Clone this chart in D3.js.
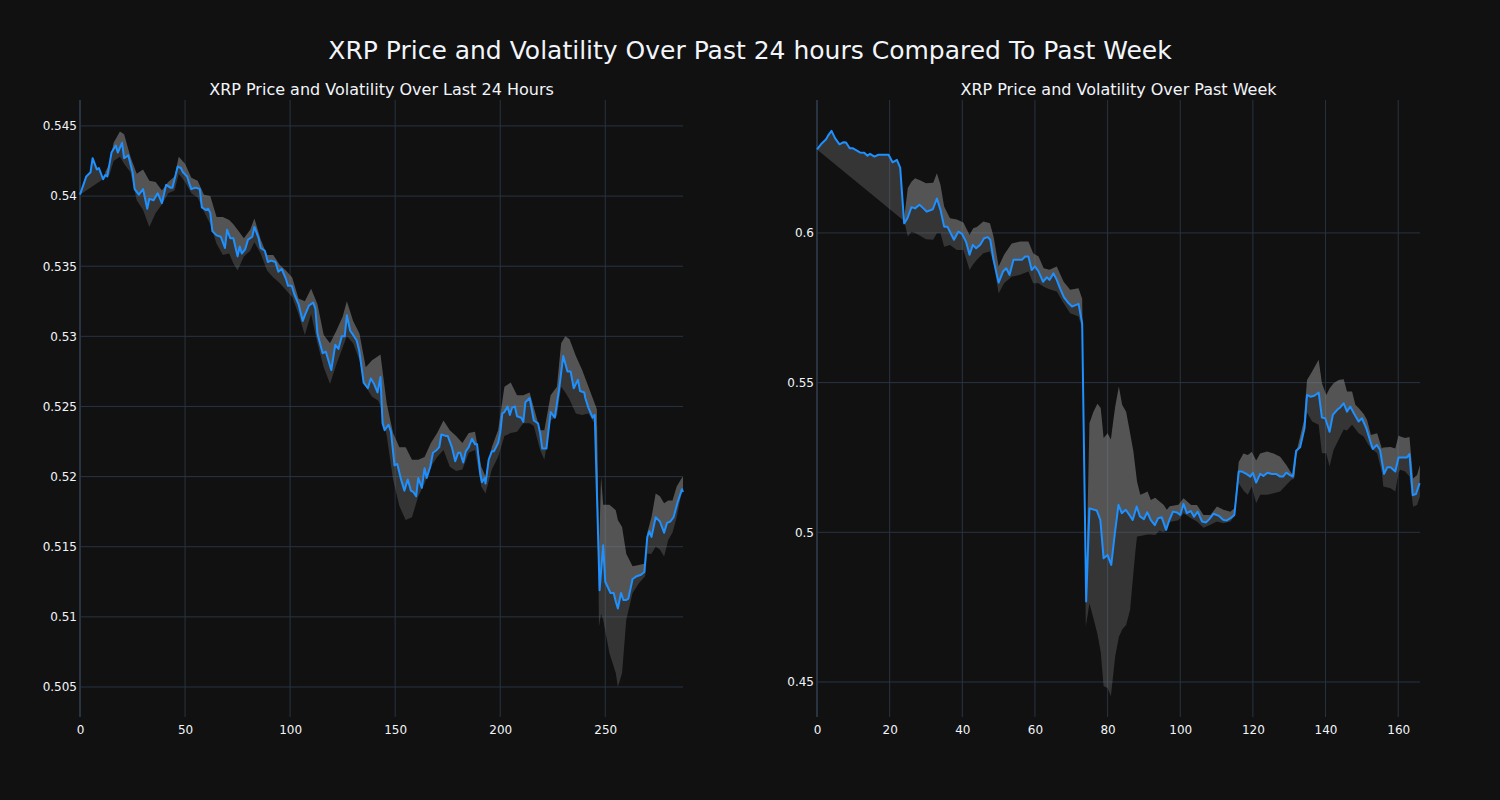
<!DOCTYPE html>
<html>
<head>
<meta charset="utf-8">
<script src="https://cdn.jsdelivr.net/npm/d3@7"></script>
<style>
  html, body { margin: 0; padding: 0; background: #111111; }
  svg { display: block; }
  text { font-family: "DejaVu Sans", sans-serif; fill: #f2f5fa; }
</style>
</head>
<body>
<svg id="chart" width="1500" height="800"></svg>
<script>
// ---------- DATA ----------
const mainTitle = "XRP Price and Volatility Over Past 24 hours Compared To Past Week";
const leftTitle = "XRP Price and Volatility Over Last 24 Hours";
const rightTitle = "XRP Price and Volatility Over Past Week";

// Left panel (last 24 hours, 5-minute steps)
const leftX = [0,3,5,6,8,9,11,12,13,15,17,18,20,21,23,25,26,28,30,32,33,35,37,39,41,43,44,46.5,48,49,51,52,53,55,57,58,60,61,62,63,65,67,69,70,71.5,73,75,76,77,78.6,80,82,83,85,86,88,89.4,91,93,94.4,96,98,99,100.8,102,104,106,107,109,111,112,113,115.5,117,119.6,121.5,123,124.6,126,127,128.6,130,131.7,133,135,137,138.4,140,141.6,143,144,145,146.8,148,149.7,151,152.8,154.4,156,157.5,158.7,160,161,162.7,164,165,166.7,168,169.8,171,172,174,175,177,178.6,180,181,182.4,183.6,185,186.6,188,189,190.5,191.3,192.6,193,194.5,196,197,199,200,201,202,203.5,204.6,205.6,207,208,210,211,212,214,216,218,219,220,222,224,226,228,230,232,233.5,235,237,238,240,240.5,242,244,245,247.3,249,250,252.5,254,255,256,257.5,258.6,260,261,263,265,267,268.6,270,271,272,274,276,278,279.4,281,282.5,284.5,286.5,287];
const leftPrice = [0.5401,0.5414,0.5417,0.5427,0.5419,0.5420,0.5412,0.5415,0.5414,0.5431,0.5436,0.5431,0.5438,0.5427,0.5429,0.5417,0.5405,0.5401,0.5405,0.5391,0.5398,0.5397,0.5402,0.5395,0.5408,0.5406,0.5406,0.5421,0.5420,0.5417,0.5414,0.5409,0.5405,0.5406,0.5405,0.5392,0.5390,0.5391,0.5388,0.5375,0.5372,0.5371,0.5363,0.5376,0.5370,0.5370,0.5357,0.5364,0.5359,0.5362,0.5369,0.5371,0.5378,0.5370,0.5363,0.5361,0.5353,0.5354,0.5353,0.5346,0.5348,0.5341,0.5336,0.5336,0.5330,0.5323,0.5311,0.5315,0.5322,0.5324,0.5320,0.5302,0.5288,0.5289,0.5276,0.5294,0.5291,0.5300,0.5300,0.5315,0.5304,0.5301,0.5297,0.5289,0.5267,0.5263,0.5270,0.5266,0.5260,0.5271,0.5238,0.5233,0.5237,0.5232,0.5208,0.5209,0.5198,0.5190,0.5198,0.5190,0.5189,0.5186,0.5199,0.5192,0.5206,0.5199,0.5207,0.5217,0.5219,0.5221,0.5230,0.5229,0.5229,0.5221,0.5211,0.5217,0.5217,0.5210,0.5218,0.5221,0.5227,0.5223,0.5223,0.5202,0.5196,0.5199,0.5195,0.5212,0.5218,0.5218,0.5224,0.5231,0.5245,0.5246,0.5250,0.5244,0.5249,0.5250,0.5243,0.5242,0.5239,0.5253,0.5256,0.5240,0.5238,0.5231,0.5220,0.5220,0.5246,0.5242,0.5262,0.5286,0.5275,0.5275,0.5263,0.5269,0.5261,0.5260,0.5256,0.5249,0.5242,0.5244,0.5119,0.5151,0.5125,0.5117,0.5117,0.5111,0.5106,0.5117,0.5112,0.5112,0.5113,0.5127,0.5129,0.5130,0.5132,0.5157,0.5161,0.5157,0.5171,0.5168,0.5160,0.5167,0.5168,0.5171,0.5182,0.5191,0.5189];
const leftBandX = [12,14,16,19,21,24,27,30,33,36,39,42,45,47,50,53,56,59,62,65,68,71,73,75,78,81,83,86,89,92,95,98,101,104,107,110,113,116,119,122,125,127,130,133,136,139,142,143,146,149,152,155,158,161,164,167,170,173,176,179,182,185,188,191,193,196,199,202,205,208,211,214,216,219,221,224,227,229,231,233,236,239,242,244,246,247,248,249,252,255,256,258,260,263,266,269,270,272,274,276,278,280,282,284,286,287];
const leftUpper = [0.5417,0.5423,0.5438,0.5446,0.5444,0.5428,0.5416,0.5419,0.5411,0.5410,0.5404,0.5410,0.5414,0.5428,0.5423,0.5413,0.5411,0.5401,0.5400,0.5385,0.5385,0.5383,0.5380,0.5376,0.5370,0.5376,0.5384,0.5369,0.5358,0.5358,0.5351,0.5347,0.5342,0.5327,0.5325,0.5334,0.5323,0.5301,0.5295,0.5304,0.5314,0.5325,0.5311,0.5302,0.5278,0.5283,0.5286,0.5287,0.5252,0.5231,0.5221,0.5221,0.5212,0.5212,0.5214,0.5224,0.5231,0.5240,0.5233,0.5229,0.5224,0.5231,0.5232,0.5207,0.5200,0.5221,0.5233,0.5264,0.5267,0.5258,0.5258,0.5260,0.5249,0.5233,0.5233,0.5258,0.5264,0.5295,0.5300,0.5298,0.5286,0.5276,0.5264,0.5256,0.5248,0.5145,0.5200,0.5180,0.5180,0.5176,0.5169,0.5164,0.5145,0.5136,0.5137,0.5138,0.5160,0.5171,0.5188,0.5186,0.5181,0.5183,0.5183,0.5193,0.5198,0.5200];
const leftLower = [0.5413,0.5415,0.5425,0.5428,0.5423,0.5417,0.5397,0.5390,0.5378,0.5388,0.5394,0.5402,0.5404,0.5416,0.5410,0.5402,0.5399,0.5389,0.5380,0.5366,0.5358,0.5359,0.5352,0.5347,0.5357,0.5361,0.5367,0.5359,0.5347,0.5342,0.5338,0.5333,0.5328,0.5316,0.5301,0.5316,0.5295,0.5278,0.5266,0.5280,0.5292,0.5300,0.5295,0.5283,0.5264,0.5257,0.5254,0.5250,0.5229,0.5198,0.5179,0.5169,0.5171,0.5186,0.5195,0.5207,0.5214,0.5219,0.5207,0.5204,0.5205,0.5217,0.5219,0.5193,0.5188,0.5205,0.5214,0.5229,0.5231,0.5232,0.5238,0.5238,0.5236,0.5219,0.5212,0.5240,0.5243,0.5264,0.5260,0.5255,0.5245,0.5244,0.5245,0.5240,0.5236,0.5093,0.5102,0.5098,0.5074,0.5060,0.5050,0.5060,0.5098,0.5117,0.5124,0.5129,0.5145,0.5145,0.5150,0.5148,0.5143,0.5155,0.5160,0.5171,0.5186,0.5190];
const leftXTicks = [0, 50, 100, 150, 200, 250];
const leftYTicks = [0.505, 0.51, 0.515, 0.52, 0.525, 0.53, 0.535, 0.54, 0.545];

// Right panel (past week, hourly steps)
const rightX = [0,1.3,2.5,3,4,5,6.2,7.3,8,9,9.8,11,11.8,13,13.9,14.6,15.8,16.9,18.3,19.7,20.8,22,22.9,24,24.9,26,27,28.2,29.3,30.2,31.9,33,34,35,35.9,36.8,37.7,38.9,39.9,41,42,42.9,43.8,44.9,46,47,47.7,48.6,50,51.2,52.1,53,54.1,55.5,56.4,57.3,58.2,59.1,60,61,62.2,63.3,64,65.1,66,66.9,68,69.3,70.2,72,73,74.1,75,77,78,78.9,80,81,82,83,83.9,85,86,86.9,88,88.9,90,90.9,91.9,93,93.9,94.9,96.1,97,98,99.1,100,100.9,101.8,102.9,103.8,104.8,106,107.1,108,109.2,110.6,111.8,112.7,113.8,114.9,116.1,117,118.2,119.3,120,120.9,122,122.9,124,125.2,126.4,127.5,128.3,129.2,130.1,131,131.9,133,134.2,134.9,135.8,136.9,138.1,139,139.9,141.1,142,143.2,144.1,145,145.9,146.8,147.9,149.1,150,151.2,153,154.1,155,156.1,157,157.9,159.2,160.1,161.4,162.4,163.1,164,164.9,165.9];
const rightPrice = [0.6279,0.6299,0.6313,0.6324,0.6341,0.6316,0.6296,0.6303,0.6302,0.6283,0.6283,0.6275,0.6269,0.6268,0.6258,0.6264,0.6255,0.6261,0.6261,0.6261,0.6236,0.6244,0.6218,0.6032,0.6049,0.6086,0.6082,0.6094,0.6082,0.6071,0.6079,0.6115,0.6077,0.6021,0.6021,0.5999,0.5977,0.6004,0.5997,0.5971,0.5927,0.5960,0.5949,0.5960,0.5982,0.5986,0.5977,0.5910,0.5834,0.5871,0.5882,0.5860,0.5910,0.5910,0.5910,0.5921,0.5921,0.5876,0.5888,0.5871,0.5837,0.5852,0.5843,0.5865,0.5843,0.5815,0.5785,0.5765,0.5754,0.5763,0.5698,0.4769,0.5080,0.5073,0.5041,0.4913,0.4924,0.4891,0.4997,0.5092,0.5064,0.5075,0.5058,0.5041,0.5086,0.5053,0.5044,0.5067,0.5041,0.5024,0.5047,0.5050,0.5008,0.5041,0.5069,0.5066,0.5058,0.5095,0.5064,0.5071,0.5052,0.5069,0.5036,0.5033,0.5044,0.5062,0.5055,0.5042,0.5039,0.5047,0.5058,0.5203,0.5203,0.5195,0.5186,0.5199,0.5166,0.5195,0.5188,0.5199,0.5195,0.5195,0.5186,0.5186,0.5199,0.5192,0.5186,0.5272,0.5284,0.5348,0.5459,0.5453,0.5456,0.5467,0.5383,0.5381,0.5336,0.5392,0.5409,0.5418,0.5431,0.5403,0.5420,0.5395,0.5370,0.5381,0.5348,0.5278,0.5292,0.5275,0.5195,0.5217,0.5217,0.5203,0.5250,0.5250,0.5250,0.5261,0.5124,0.5128,0.5164];
const rightBandX = [24,25,26,27,28.5,30,32,33,34,35,36.6,38.5,40.3,42,43,44,45.8,47.6,48.6,50,51.5,53.6,55.9,58.2,59.5,61,62.4,64,66,67.9,69.7,72,73,74,75,76.1,77.2,78.1,78.9,80,80.9,81.6,82.1,83.1,84,85.1,86.2,87.1,87.6,88.1,89,90,91,91.9,93.1,94.3,95.4,96.3,97.1,99.5,100.9,103,104.6,106.4,108.3,110.1,111.9,113.8,114.9,116.1,117.4,118.6,119.7,120.9,122,123.9,125.7,127.5,129.2,130.5,131.4,132.1,134,134.9,136.3,138.1,139,140.2,141.1,142.2,143.6,145,145.9,147.3,148.2,149.1,150.5,151.4,152.5,154.2,155.5,155.9,157.9,159.2,160.1,160.6,161.9,163.1,164.1,165.2,166];
const rightUpper = [0.6050,0.6150,0.6171,0.6183,0.6175,0.6166,0.6168,0.6199,0.6160,0.6088,0.6049,0.6045,0.6035,0.5993,0.6016,0.6020,0.6038,0.6032,0.5988,0.5888,0.5927,0.5965,0.5971,0.5971,0.5932,0.5921,0.5882,0.5877,0.5888,0.5837,0.5810,0.5815,0.5780,0.4780,0.5364,0.5403,0.5429,0.5415,0.5315,0.5331,0.5310,0.5376,0.5420,0.5487,0.5426,0.5403,0.5331,0.5270,0.5220,0.5170,0.5125,0.5130,0.5136,0.5108,0.5115,0.5103,0.5092,0.5075,0.5087,0.5092,0.5114,0.5091,0.5091,0.5058,0.5058,0.5086,0.5075,0.5069,0.5080,0.5235,0.5263,0.5258,0.5269,0.5240,0.5263,0.5270,0.5263,0.5252,0.5225,0.5200,0.5186,0.5275,0.5370,0.5509,0.5537,0.5576,0.5498,0.5459,0.5480,0.5498,0.5509,0.5511,0.5470,0.5470,0.5426,0.5415,0.5395,0.5376,0.5325,0.5331,0.5280,0.5283,0.5285,0.5280,0.5323,0.5320,0.5315,0.5318,0.5180,0.5191,0.5225];
const rightLower = [0.6040,0.5988,0.6004,0.6000,0.5990,0.5979,0.5977,0.5999,0.5999,0.5954,0.5960,0.5943,0.5943,0.5876,0.5895,0.5910,0.5932,0.5938,0.5900,0.5798,0.5832,0.5854,0.5860,0.5871,0.5832,0.5832,0.5820,0.5812,0.5804,0.5765,0.5732,0.5721,0.5680,0.4685,0.4763,0.4713,0.4660,0.4600,0.4486,0.4480,0.4452,0.4530,0.4586,0.4650,0.4675,0.4690,0.4741,0.4865,0.4930,0.4986,0.4988,0.4990,0.4993,0.4993,0.4991,0.5005,0.5000,0.5010,0.5034,0.5040,0.5064,0.5047,0.5036,0.5015,0.5025,0.5036,0.5030,0.5036,0.5053,0.5164,0.5140,0.5125,0.5153,0.5097,0.5125,0.5125,0.5130,0.5136,0.5158,0.5175,0.5180,0.5260,0.5330,0.5400,0.5370,0.5359,0.5264,0.5264,0.5220,0.5275,0.5309,0.5343,0.5340,0.5359,0.5345,0.5331,0.5320,0.5300,0.5281,0.5264,0.5200,0.5153,0.5147,0.5136,0.5200,0.5209,0.5203,0.5186,0.5085,0.5091,0.5120];
const rightXTicks = [0, 20, 40, 60, 80, 100, 120, 140, 160];
const rightYTicks = [0.45, 0.5, 0.55, 0.6];

// ---------- DRAW ----------
const svg = d3.select("#chart");
svg.append("rect").attr("width", 1500).attr("height", 800).attr("fill", "#111111");

svg.append("text").attr("x", 750).attr("y", 59).attr("text-anchor", "middle")
  .style("font-size", "25px").text(mainTitle);

function panel(cfg) {
  const x = d3.scaleLinear().domain(cfg.xDomain).range([cfg.left, cfg.right]);
  const y = d3.scaleLinear().domain(cfg.yDomain).range([cfg.bottom, cfg.top]);
  const g = svg.append("g");

  // gridlines
  g.append("g").selectAll("line").data(cfg.yTicks).join("line")
    .attr("x1", cfg.left).attr("x2", cfg.right)
    .attr("y1", d => y(d)).attr("y2", d => y(d))
    .attr("stroke", "#283442").attr("stroke-width", 1);
  g.append("g").selectAll("line").data(cfg.xTicks.filter(d => d !== 0)).join("line")
    .attr("x1", d => x(d)).attr("x2", d => x(d))
    .attr("y1", cfg.top).attr("y2", cfg.bottom)
    .attr("stroke", "#283442").attr("stroke-width", 1);
  // zero line
  g.append("line").attr("x1", x(0)).attr("x2", x(0)).attr("y1", cfg.top).attr("y2", cfg.bottom)
    .attr("stroke", "#283442").attr("stroke-width", 2);

  const pricePts = cfg.px.map((d, i) => [x(d), y(cfg.price[i])]);
  const upperPts = cfg.bx.map((d, i) => [x(d), y(cfg.upper[i])]);
  const lowerPts = cfg.bx.map((d, i) => [x(d), y(cfg.lower[i])]);
  const bx0 = cfg.bx[0], bx1 = cfg.bx[cfg.bx.length - 1];
  const pricePtsBand = cfg.px.map((d, i) => [d, cfg.price[i]])
    .filter(p => p[0] >= bx0 && p[0] <= bx1).map(p => [x(p[0]), y(p[1])]);
  const line = d3.line();

  // upper (lighter) fill: between upper band and price
  g.append("path")
    .attr("d", line(upperPts.concat(pricePtsBand.slice().reverse())) + "Z")
    .attr("fill", "rgba(140,140,140,0.55)").attr("stroke", "none");
  // lower (darker) fill: between price and lower band
  g.append("path")
    .attr("d", line(pricePts.concat(lowerPts.slice().reverse())) + "Z")
    .attr("fill", "rgba(128,128,128,0.33)").attr("stroke", "none");

  // price line
  g.append("path").attr("d", line(pricePts))
    .attr("fill", "none").attr("stroke", "#1e90ff").attr("stroke-width", 2)
    .attr("stroke-linejoin", "round");

  // axes
  const yAxis = d3.axisLeft(y).tickValues(cfg.yTicks).tickSize(0).tickPadding(3)
    .tickFormat(d => String(d));
  const ya = g.append("g").attr("transform", `translate(${cfg.left},0)`).call(yAxis);
  const xAxis = d3.axisBottom(x).tickValues(cfg.xTicks).tickSize(0).tickPadding(8)
    .tickFormat(d => String(d));
  const xa = g.append("g").attr("transform", `translate(0,${cfg.bottom})`).call(xAxis);
  [ya, xa].forEach(a => {
    a.select(".domain").remove();
    a.selectAll("text").style("font-size", "12px").style("font-family", '"DejaVu Sans", sans-serif')
      .attr("fill", "#f2f5fa");
  });

  svg.append("text").attr("x", (cfg.left + cfg.right) / 2).attr("y", 95)
    .attr("text-anchor", "middle").style("font-size", "16px").text(cfg.title);
}

panel({
  left: 80, right: 683, top: 100, bottom: 717,
  xDomain: [0, 287], yDomain: [0.50286, 0.54685],
  xTicks: leftXTicks, yTicks: leftYTicks,
  px: leftX, price: leftPrice, bx: leftBandX, upper: leftUpper, lower: leftLower,
  title: leftTitle
});
panel({
  left: 817, right: 1420, top: 100, bottom: 717,
  xDomain: [0, 166], yDomain: [0.4383, 0.6444],
  xTicks: rightXTicks, yTicks: rightYTicks,
  px: rightX, price: rightPrice, bx: rightBandX, upper: rightUpper, lower: rightLower,
  title: rightTitle
});
</script>
</body>
</html>
